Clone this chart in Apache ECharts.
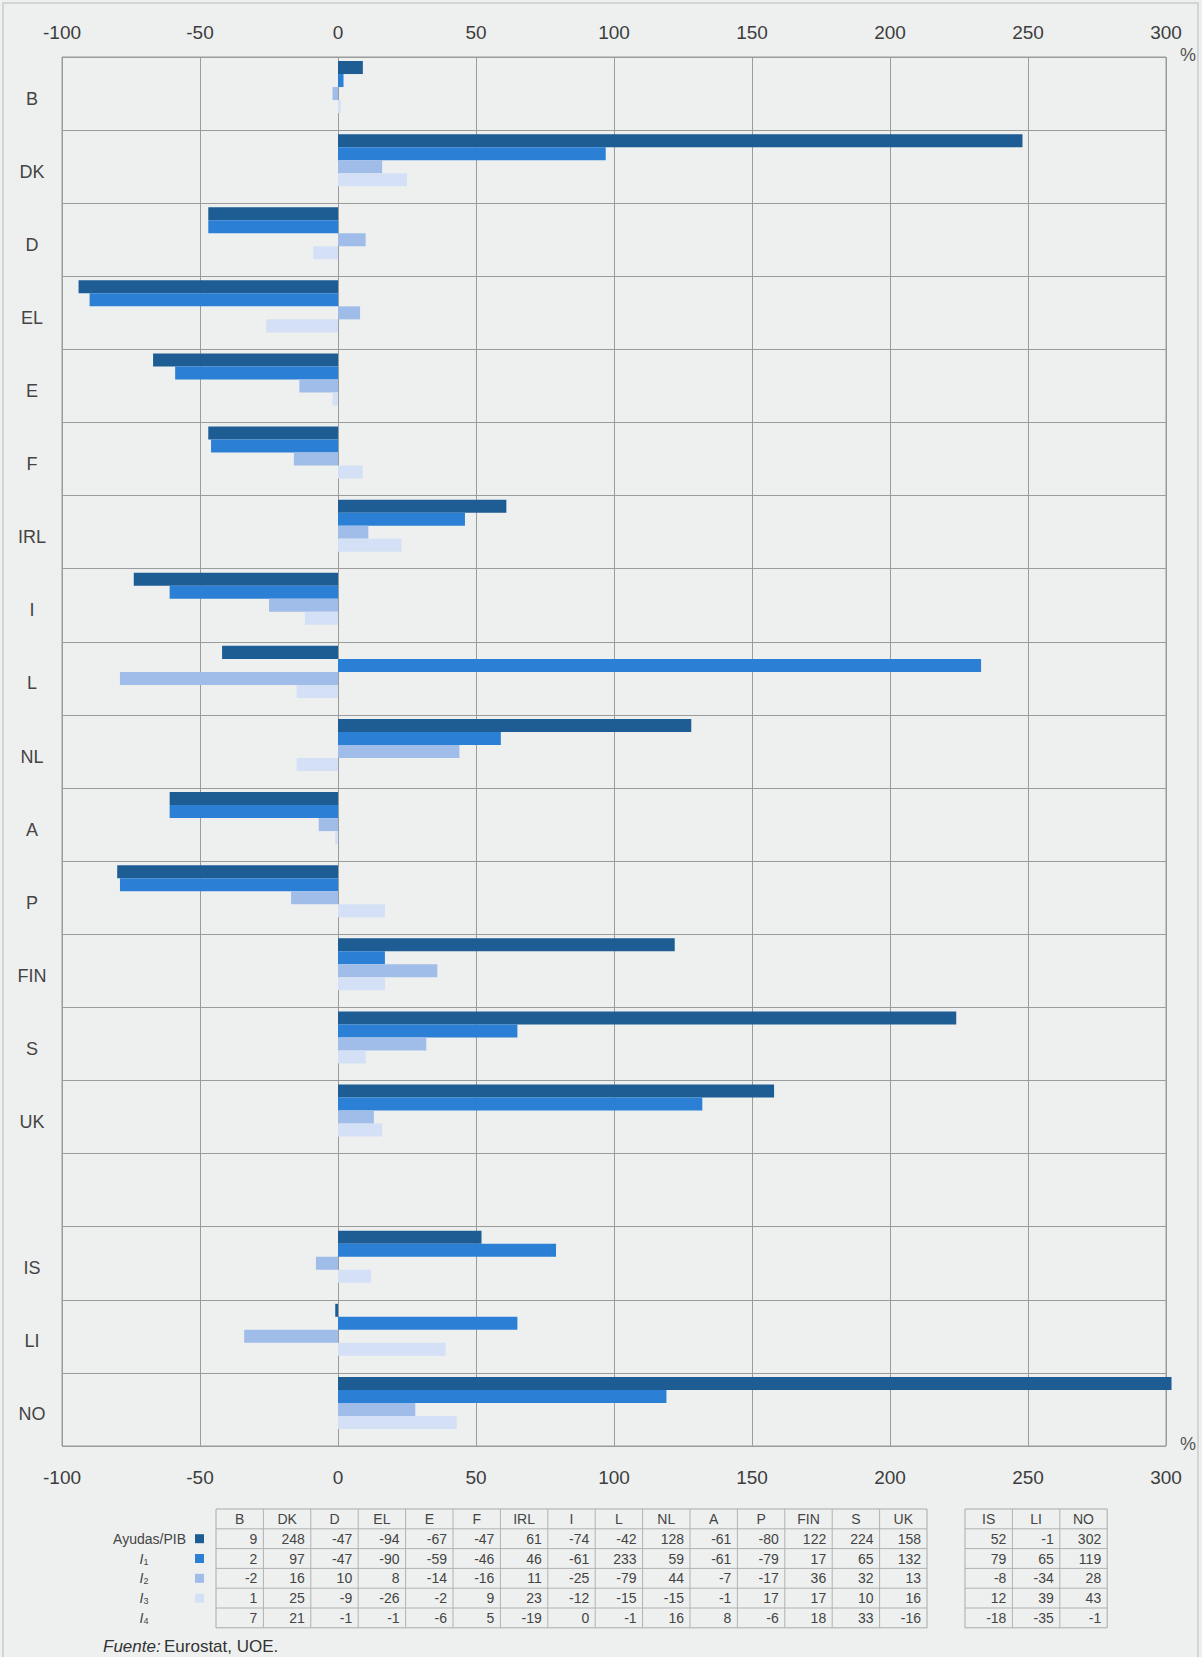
<!DOCTYPE html>
<html><head><meta charset="utf-8">
<script src="https://cdn.jsdelivr.net/npm/echarts@6/dist/echarts.min.js"></script>
<style>html,body{margin:0;padding:0;background:#eef0ef;} #c{width:1202px;height:1657px;}</style>
</head><body><div id="c"></div>
<script>
// ---- data ----
const categories = ['B','DK','D','EL','E','F','IRL','I','L','NL','A','P','FIN','S','UK','','IS','LI','NO'];
const ayudas = [9,248,-47,-94,-67,-47,61,-74,-42,128,-61,-80,122,224,158,null,52,-1,302];
const i1     = [2,97,-47,-90,-59,-46,46,-61,233,59,-61,-79,17,65,132,null,79,65,119];
const i2     = [-2,16,10,8,-14,-16,11,-25,-79,44,-7,-17,36,32,13,null,-8,-34,28];
const i3     = [1,25,-9,-26,-2,9,23,-12,-15,-15,-1,17,17,10,16,null,12,39,43];
const i4     = [7,21,-1,-1,-6,5,-19,0,-1,16,8,-6,18,33,-16,null,-18,-35,-1];
const xTicks = [-100,-50,0,50,100,150,200,250,300];
const tableCols1 = ['B','DK','D','EL','E','F','IRL','I','L','NL','A','P','FIN','S','UK'];
const tableCols2 = ['IS','LI','NO'];
const rowNames = ['Ayudas/PIB','1','2','3','4'];
const source = 'Eurostat, UOE.';

// ---- style ----
const colors = ['#1d5d93','#2b80d6','#a0bdea','#d3e0f5'];
const FONT = 'Liberation Sans, Arial, sans-serif';
const rows = [ayudas, i1, i2, i3, i4];

const chart = echarts.init(document.getElementById('c'), null, {renderer:'svg'});

const elements = [];
const colW = 47.4, Ty = 1509, rowH = 19.8;
function table(x0, cols){
  const w = cols.length*colW, h = 6*rowH;
  elements.push({type:'rect', shape:{x:x0,y:Ty,width:w,height:h}, style:{fill:'none',stroke:'#a8aaaa',lineWidth:1}, silent:true});
  for(let r=1;r<6;r++) elements.push({type:'line', shape:{x1:x0,y1:Ty+r*rowH,x2:x0+w,y2:Ty+r*rowH}, style:{stroke:'#b0b2b2',lineWidth:1}, silent:true});
  for(let c=1;c<cols.length;c++) elements.push({type:'line', shape:{x1:x0+c*colW,y1:Ty,x2:x0+c*colW,y2:Ty+h}, style:{stroke:'#b0b2b2',lineWidth:1}, silent:true});
  cols.forEach((name,c)=>{
    elements.push({type:'text', x:x0+c*colW+colW/2, y:Ty+rowH/2, style:{text:name, fill:'#444', font:'14px '+FONT, textAlign:'center', textVerticalAlign:'middle'}, silent:true});
    const idx = categories.indexOf(name);
    rows.forEach((arr,r)=>{
      elements.push({type:'text', x:x0+(c+1)*colW-6, y:Ty+(r+1.5)*rowH, style:{text:String(arr[idx]), fill:'#444', font:'14px '+FONT, textAlign:'right', textVerticalAlign:'middle'}, silent:true});
    });
  });
}
table(216, tableCols1);
table(965, tableCols2);
rowNames.forEach((nm,r)=>{
  const yc = Ty+(r+1.5)*rowH;
  if(r===0){
    elements.push({type:'text', x:186, y:yc, style:{text:nm, fill:'#444', font:'14px '+FONT, textAlign:'right', textVerticalAlign:'middle'}, silent:true});
  } else {
    elements.push({type:'text', x:144, y:yc, style:{text:'{i|I}{s|'+nm+'}', rich:{i:{fontSize:14,fontStyle:'italic',fontFamily:FONT,fill:'#444'}, s:{fontSize:9,fontFamily:FONT,fill:'#444',padding:[6,0,0,0]}}, textAlign:'center', textVerticalAlign:'middle'}, silent:true});
  }
  if(r<4) elements.push({type:'rect', shape:{x:195,y:yc-4.5,width:9,height:9}, style:{fill:colors[r]}, silent:true});
});
elements.push({type:'text', x:103, y:1646, style:{text:'{it|Fuente:} {n|'+source+'}', rich:{it:{fontSize:17,fontStyle:'italic',fontFamily:FONT,fill:'#333'}, n:{fontSize:17,fontFamily:FONT,fill:'#333'}}, textVerticalAlign:'middle'}, silent:true});
elements.push({type:'text', x:1188, y:55, style:{text:'%', fill:'#555', font:'18px '+FONT, textAlign:'center', textVerticalAlign:'middle'}, silent:true});
elements.push({type:'text', x:1188, y:1444, style:{text:'%', fill:'#555', font:'18px '+FONT, textAlign:'center', textVerticalAlign:'middle'}, silent:true});
elements.push({type:'rect', shape:{x:3,y:3,width:1195,height:1660}, style:{fill:'none',stroke:'#c9cbcb',lineWidth:1.5}, silent:true});

const xAxisBase = {type:'value', min:xTicks[0], max:xTicks[xTicks.length-1], interval:50,
  axisLine:{show:false}, axisTick:{show:false},
  axisLabel:{fontSize:19, color:'#3d3d3d', fontFamily:FONT}};

const mkSeries = (name, data, color) => ({type:'bar', name, data, itemStyle:{color}, barGap:'0%', barCategoryGap:'11%', clip:false, animation:false});

chart.setOption({
  backgroundColor:'#eef0ef',
  animation:false,
  grid:{left:62, right:36, top:57, bottom:211, show:true, borderColor:'#9a9c9c', borderWidth:1, backgroundColor:'transparent'},
  xAxis:[
    Object.assign({}, xAxisBase, {position:'top', axisLabel:Object.assign({}, xAxisBase.axisLabel, {margin:15}), splitLine:{show:true, lineStyle:{color:'#9a9c9c', width:1}}}),
    Object.assign({}, xAxisBase, {position:'bottom', axisLabel:Object.assign({}, xAxisBase.axisLabel, {margin:22}), splitLine:{show:false}})
  ],
  yAxis:{type:'category', data:categories, inverse:true,
    axisLine:{show:false}, axisTick:{show:false, interval:0},
    axisLabel:{interval:0, color:'#444', align:'center', margin:30,
      formatter: v => v ? '{c|' + v + '}' : '',
      rich:{c:{fontSize:18, color:'#444', fontFamily:FONT, padding:[10,0,0,0]}}},
    splitLine:{show:true, interval:0, lineStyle:{color:'#9a9c9c', width:1}}},
  series:[
    mkSeries('Ayudas/PIB', ayudas, colors[0]),
    mkSeries('I1', i1, colors[1]),
    mkSeries('I2', i2, colors[2]),
    mkSeries('I3', i3, colors[3]),
    // empty slot: I4 is only in the table, but its place in each band is kept
    {type:'bar', name:'I4', data:[], barGap:'0%', barCategoryGap:'11%'}
  ],
  graphic:elements
});
</script></body></html>
